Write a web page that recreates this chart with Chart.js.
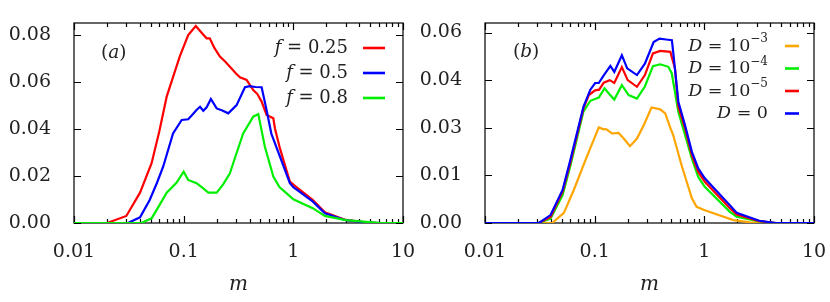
<!DOCTYPE html>
<html>
<head>
<meta charset="utf-8">
<script src="https://cdn.jsdelivr.net/npm/chart.js@4.4.0/dist/chart.umd.min.js"></script>
<style>
  body { margin: 0; background: #fff; width: 830px; height: 302px; overflow: hidden; }
  .panel { position: absolute; top: 0; width: 415px; height: 302px; }
</style>
</head>
<body>
<div class="panel" style="left:0"><canvas id="panelA" width="415" height="302"></canvas></div>
<div class="panel" style="left:415px"><canvas id="panelB" width="415" height="302"></canvas></div>
<script>
// axis ticks
const xTicks = [0.01, 0.1, 1, 10];
const xLabels = ["0.01", "0.1", "1", "10"];
const yTicksA = [0, 0.02, 0.04, 0.06, 0.08];
const yLabelsA = ["0.00", "0.02", "0.04", "0.06", "0.08"];
const yTicksB = [0, 0.015, 0.03, 0.045, 0.06];
const yLabelsB = ["0.00", "0.01", "0.03", "0.04", "0.06"];

// panel (a): f = 0.25, 0.5, 0.8
const fValues = ["0.25", "0.5", "0.8"];
const mF025 = [0.01, 0.02, 0.03, 0.04, 0.051, 0.06, 0.07, 0.08, 0.092, 0.11, 0.129, 0.145, 0.162, 0.173, 0.19, 0.214, 0.24, 0.264, 0.3, 0.326, 0.375, 0.431, 0.47, 0.514, 0.57, 0.657, 0.68, 0.755, 0.93, 1.06, 1.5, 1.94, 3.0, 4.6, 6, 10];
const pF025 = [0, 0, 0.003, 0.0129, 0.0254, 0.039, 0.0537, 0.062, 0.0707, 0.0799, 0.0837, 0.081, 0.0785, 0.0785, 0.0745, 0.0707, 0.0685, 0.0664, 0.0635, 0.0619, 0.0608, 0.0565, 0.0548, 0.0516, 0.0459, 0.0445, 0.0402, 0.0317, 0.0176, 0.0154, 0.0098, 0.0046, 0.0013, 0.0003, 0, 0];
const mF05 = [0.01, 0.031, 0.04, 0.049, 0.057, 0.065, 0.08, 0.096, 0.11, 0.12, 0.131, 0.141, 0.151, 0.162, 0.177, 0.2, 0.225, 0.255, 0.304, 0.362, 0.4, 0.45, 0.514, 0.57, 0.63, 0.755, 0.93, 1.0, 1.5, 1.94, 3.0, 4.6, 6, 10];
const pF05 = [0, 0, 0.0024, 0.0098, 0.017, 0.0239, 0.0381, 0.0438, 0.0441, 0.046, 0.048, 0.0494, 0.0477, 0.0492, 0.0527, 0.0487, 0.0478, 0.0466, 0.0501, 0.0577, 0.0582, 0.0578, 0.0577, 0.048, 0.038, 0.0282, 0.0169, 0.0152, 0.0092, 0.0041, 0.0012, 0.0002, 0, 0];
const mF08 = [0.01, 0.041, 0.051, 0.06, 0.07, 0.086, 0.1, 0.11, 0.131, 0.15, 0.168, 0.2, 0.23, 0.264, 0.3, 0.349, 0.431, 0.479, 0.55, 0.657, 0.75, 0.869, 1.0, 1.5, 1.94, 3.0, 4.6, 6, 10];
const pF08 = [0, 0, 0.002, 0.0075, 0.0129, 0.0171, 0.0218, 0.0183, 0.0169, 0.0148, 0.0129, 0.0129, 0.0165, 0.0211, 0.029, 0.0381, 0.0452, 0.0463, 0.0324, 0.0197, 0.0152, 0.0126, 0.0101, 0.0063, 0.003, 0.0012, 0.0005, 0.0001, 0];

// panel (b): D = 1e-3, 1e-4, 1e-5, 0
const dExponents = ["\u22123", "\u22124", "\u22125", null];
const mD3 = [0.01, 0.041, 0.0524, 0.0645, 0.0824, 0.109, 0.121, 0.127, 0.144, 0.165, 0.184, 0.21, 0.243, 0.28, 0.33, 0.396, 0.44, 0.486, 0.52, 0.62, 0.77, 0.85, 1.01, 1.84, 2.6, 4, 10];
const pD3 = [0, 0, 0.0032, 0.0104, 0.0198, 0.0301, 0.0295, 0.0296, 0.0282, 0.0284, 0.0266, 0.0242, 0.0266, 0.0308, 0.0364, 0.0358, 0.0345, 0.0303, 0.0277, 0.0182, 0.0078, 0.0051, 0.004, 0.0009, 0.0002, 0, 0];
const mD4 = [0.01, 0.031, 0.0396, 0.051, 0.06, 0.079, 0.0913, 0.109, 0.123, 0.137, 0.151, 0.177, 0.204, 0.243, 0.287, 0.34, 0.396, 0.47, 0.505, 0.58, 0.667, 0.77, 0.88, 1.01, 1.7, 1.97, 3.17, 4.5, 10];
const pD4 = [0, 0, 0.0014, 0.0088, 0.018, 0.0351, 0.0385, 0.0395, 0.0424, 0.0405, 0.0389, 0.0434, 0.0403, 0.0392, 0.043, 0.0494, 0.05, 0.0492, 0.0471, 0.035, 0.0277, 0.0203, 0.0145, 0.0114, 0.0036, 0.002, 0.0005, 0, 0];
const mD5 = [0.01, 0.031, 0.0396, 0.051, 0.06, 0.079, 0.0885, 0.101, 0.11, 0.121, 0.137, 0.151, 0.177, 0.2, 0.243, 0.287, 0.34, 0.396, 0.49, 0.54, 0.58, 0.667, 0.77, 0.88, 1.01, 1.7, 1.97, 3.17, 4.5, 10];
const pD5 = [0, 0, 0.0019, 0.0099, 0.019, 0.0361, 0.0403, 0.0418, 0.042, 0.0442, 0.045, 0.0441, 0.0491, 0.045, 0.0429, 0.0466, 0.0534, 0.0542, 0.0539, 0.0487, 0.0366, 0.0298, 0.0214, 0.0161, 0.013, 0.0047, 0.0027, 0.0006, 0, 0];
const mD0 = [0.01, 0.031, 0.0396, 0.051, 0.06, 0.079, 0.0913, 0.101, 0.109, 0.121, 0.139, 0.151, 0.177, 0.198, 0.243, 0.287, 0.345, 0.39, 0.45, 0.506, 0.524, 0.58, 0.667, 0.77, 0.88, 1.01, 1.7, 1.97, 3.17, 4.5, 10];
const pD0 = [0, 0, 0.0025, 0.0104, 0.0198, 0.0366, 0.042, 0.0441, 0.0441, 0.0465, 0.0495, 0.0476, 0.0528, 0.0487, 0.0466, 0.0502, 0.057, 0.0581, 0.0578, 0.0576, 0.0528, 0.0381, 0.0308, 0.0224, 0.0172, 0.0141, 0.0057, 0.0032, 0.0007, 0, 0];

const SERIF = "DejaVu Serif";

function pts(ms, ps) {
  return ms.map((m, i) => ({ x: m, y: ps[i] }));
}

function line(data, color, order) {
  return { data: data, borderColor: color, borderWidth: 2.2, pointRadius: 0, tension: 0, fill: false, order: order };
}

// draw text made of upright / italic / superscript pieces
function richText(ctx, parts, x, y, size, alignRight) {
  const fontOf = p => (p.it ? "italic " : "") + (p.sup ? Math.round(size * 0.7) : size) + "px " + SERIF;
  let w = 0;
  parts.forEach(p => { ctx.font = fontOf(p); w += ctx.measureText(p.t).width; });
  let cx = alignRight ? x - w : x;
  ctx.textBaseline = "middle";
  ctx.textAlign = "left";
  parts.forEach(p => {
    ctx.font = fontOf(p);
    ctx.fillText(p.t, cx, p.sup ? y - size * 0.4 : y);
    cx += ctx.measureText(p.t).width;
  });
}

const frame = {
  id: "frame",
  beforeDatasetsDraw(chart, args, o) {
    const { ctx, chartArea: a, scales } = chart;
    ctx.save();
    ctx.strokeStyle = "#000";
    ctx.lineWidth = 1.2;
    ctx.strokeRect(a.left, a.top, a.right - a.left, a.bottom - a.top);
    ctx.beginPath();
    xTicks.forEach(v => {
      const px = Math.round(scales.x.getPixelForValue(v)) + 0.5;
      ctx.moveTo(px, a.bottom); ctx.lineTo(px, a.bottom - 7);
      ctx.moveTo(px, a.top); ctx.lineTo(px, a.top + 7);
    });
    for (let d = 0.01; d < 5; d *= 10) {
      for (let k = 2; k <= 9; k++) {
        const px = Math.round(scales.x.getPixelForValue(d * k)) + 0.5;
        ctx.moveTo(px, a.bottom); ctx.lineTo(px, a.bottom - 4);
        ctx.moveTo(px, a.top); ctx.lineTo(px, a.top + 4);
      }
    }
    o.yTicks.forEach(v => {
      const py = Math.round(scales.y.getPixelForValue(v)) + 0.5;
      ctx.moveTo(a.left, py); ctx.lineTo(a.left + 7, py);
      ctx.moveTo(a.right, py); ctx.lineTo(a.right - 7, py);
    });
    ctx.stroke();
    ctx.restore();
  },
  afterDraw(chart, args, o) {
    const ctx = chart.ctx;
    ctx.save();
    ctx.fillStyle = "#222";
    richText(ctx, [{ t: "(" }, { t: o.tag, it: true }, { t: ")" }], o.tagX, o.tagY, 18.5, false);
    o.legend.forEach((row, i) => {
      const y = o.legendY0 + i * o.legendDy;
      ctx.fillStyle = "#222";
      richText(ctx, row.parts, o.legendRight, y, o.legendSize, true);
      ctx.strokeStyle = row.color;
      ctx.lineWidth = 2.6;
      ctx.beginPath();
      ctx.moveTo(o.lineX0, y); ctx.lineTo(o.lineX1, y);
      ctx.stroke();
    });
    ctx.restore();
  }
};

function noPad(s) {
  s.paddingLeft = 0; s.paddingRight = 0; s.paddingTop = 0; s.paddingBottom = 0;
}

function makeOptions(yMax, yTicks, yLabels, yWidth, padRight, deco) {
  return {
    responsive: false,
    animation: false,
    layout: { padding: { top: 23, right: padRight, left: 0, bottom: 0 } },
    plugins: { legend: { display: false }, tooltip: { enabled: false }, frame: deco },
    scales: {
      x: {
        type: "logarithmic",
        min: 0.01,
        max: 10,
        afterBuildTicks: s => { s.ticks = xTicks.map(v => ({ value: v })); },
        afterFit: s => { s.height = 79; noPad(s); },
        grid: { display: false },
        border: { display: false },
        ticks: {
          autoSkip: false, maxRotation: 0, padding: 10, color: "#222",
          font: { family: SERIF, size: 19 },
          callback: (v, i) => xLabels[i]
        },
        title: {
          display: true, text: "m", color: "#222",
          font: { family: SERIF, size: 20, style: "italic", lineHeight: 1 },
          padding: { top: 0, bottom: 7 }
        }
      },
      y: {
        min: 0,
        max: yMax,
        afterBuildTicks: s => { s.ticks = yTicks.map(v => ({ value: v })); },
        afterFit: s => { s.width = yWidth; noPad(s); },
        grid: { display: false },
        border: { display: false },
        ticks: {
          padding: 15, color: "#222",
          font: { family: SERIF, size: 19 },
          callback: (v, i) => yLabels[i]
        }
      }
    }
  };
}

const legendA = fValues.map((f, i) => ({
  parts: [{ t: "f", it: true }, { t: " = " + f }],
  color: ["#ff0000", "#0000ff", "#00ee00"][i]
}));
const legendB = dExponents.map((e, i) => ({
  parts: e ? [{ t: "D", it: true }, { t: " = 10" }, { t: e, sup: true }] : [{ t: "D", it: true }, { t: " = 0" }],
  color: ["#ffa500", "#00ee00", "#ff0000", "#0000ff"][i]
}));

new Chart(document.getElementById("panelA"), {
  type: "line",
  data: {
    datasets: [
      line(pts(mF025, pF025), "#ff0000", 2),
      line(pts(mF05, pF05), "#0000ff", 1),
      line(pts(mF08, pF08), "#00ee00", 0)
    ]
  },
  options: makeOptions(0.085, yTicksA, yLabelsA, 74, 12, {
    yTicks: yTicksA, tag: "a", tagX: 101, tagY: 53,
    legend: legendA, legendRight: 348, legendY0: 48, legendDy: 25, legendSize: 18, lineX0: 363, lineX1: 385
  }),
  plugins: [frame]
});

new Chart(document.getElementById("panelB"), {
  type: "line",
  data: {
    datasets: [
      line(pts(mD3, pD3), "#ffa500", 3),
      line(pts(mD4, pD4), "#00ee00", 2),
      line(pts(mD5, pD5), "#ff0000", 1),
      line(pts(mD0, pD0), "#0000ff", 0)
    ]
  },
  options: makeOptions(0.063, yTicksB, yLabelsB, 70, 16, {
    yTicks: yTicksB, tag: "b", tagX: 98, tagY: 52,
    legend: legendB, legendRight: 353, legendY0: 46, legendDy: 22.5, legendSize: 17.5, lineX0: 370, lineX1: 384
  }),
  plugins: [frame]
});
</script>
</body>
</html>
